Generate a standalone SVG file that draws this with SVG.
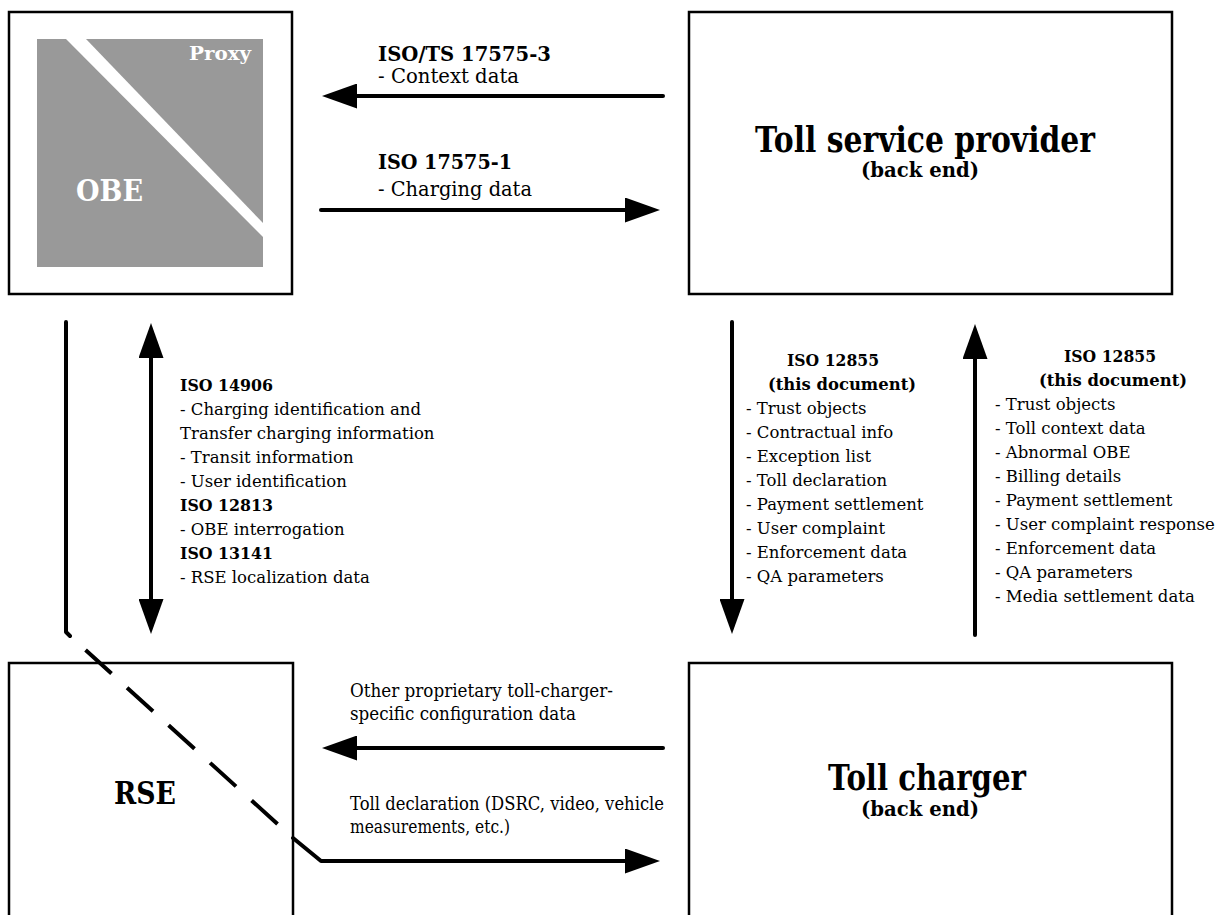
<svg xmlns="http://www.w3.org/2000/svg" width="1218" height="915" viewBox="0 0 1218 915">
<defs>
<style>
.box{fill:#fff;stroke:#000;stroke-width:2.5}
.t{font-family:"DejaVu Serif","Liberation Serif",serif;fill:#000}
.b{font-weight:bold}
.big{font-size:35px;font-weight:bold}
.sub{font-size:20px;font-weight:bold}
.top{font-size:20.5px}
.topb{font-size:21px;font-weight:bold}
.lst{font-size:16.5px}
.hd{font-size:16.8px;font-weight:bold}
.bot{font-size:18px}
.wh{fill:#fff;font-weight:bold}
.ln{fill:none;stroke:#000;stroke-width:4;stroke-linecap:round;stroke-linejoin:round}
.dash{stroke-dasharray:35 21;stroke-dashoffset:35;stroke-linecap:butt}
</style>
<marker id="ah" viewBox="0 0 35 25" refX="0" refY="12.5" markerWidth="35" markerHeight="25" markerUnits="userSpaceOnUse" orient="auto-start-reverse">
<path d="M0,0 L35,12.5 L0,25 Z" fill="#000"/>
</marker>
</defs>
<rect width="1218" height="915" fill="#fff"/>

<g id="node-obe">
<rect class="box" x="9" y="12" width="283" height="282"/>
<rect x="37" y="39" width="226" height="228" fill="#999"/>
<polygon points="66,39 86,39 263,223 263,237" fill="#fff"/>
<text class="t wh" x="189" y="60" font-size="19" textLength="62" lengthAdjust="spacingAndGlyphs">Proxy</text>
<text class="t wh" x="76" y="201" font-size="30" textLength="67" lengthAdjust="spacingAndGlyphs">OBE</text>
</g>

<g id="node-tsp">
<rect class="box" x="689" y="12" width="483" height="282"/>
<text class="t big" x="925" y="152" text-anchor="middle" textLength="340" lengthAdjust="spacingAndGlyphs">Toll service provider</text>
<text class="t sub" x="920" y="177" text-anchor="middle" textLength="118" lengthAdjust="spacingAndGlyphs">(back end)</text>
</g>

<g id="node-rse">
<rect class="box" x="9" y="663" width="284" height="300"/>
<text class="t b" x="114" y="804" font-size="31" textLength="62" lengthAdjust="spacingAndGlyphs">RSE</text>
</g>

<g id="node-tc">
<rect class="box" x="689" y="663" width="483" height="300"/>
<text class="t big" x="927" y="790" text-anchor="middle" textLength="198" lengthAdjust="spacingAndGlyphs">Toll charger</text>
<text class="t sub" x="920" y="816" text-anchor="middle" textLength="118" lengthAdjust="spacingAndGlyphs">(back end)</text>
</g>

<g id="connectors">
<path class="ln" d="M663,96 H357" marker-end="url(#ah)"/>
<path class="ln" d="M321,210 H625" marker-end="url(#ah)"/>
<path class="ln" d="M151,358 V599" marker-start="url(#ah)" marker-end="url(#ah)"/>
<path class="ln" d="M732,322 V599" marker-end="url(#ah)"/>
<path class="ln" d="M975,635 V359" marker-end="url(#ah)"/>
<path class="ln" d="M663,748 H357" marker-end="url(#ah)"/>
<path class="ln" d="M66,322 V632 L70,636"/>
<path class="ln dash" d="M70,636 L293,838"/>
<path class="ln" d="M293,838 L321,861 H625" marker-end="url(#ah)"/>
</g>

<g id="labels-top">
<text class="t topb" x="378" y="61" textLength="173" lengthAdjust="spacingAndGlyphs">ISO/TS 17575-3</text>
<text class="t top" x="378" y="83" textLength="141" lengthAdjust="spacingAndGlyphs">- Context data</text>
<text class="t topb" x="378" y="169" textLength="134" lengthAdjust="spacingAndGlyphs">ISO 17575-1</text>
<text class="t top" x="378" y="196" textLength="154" lengthAdjust="spacingAndGlyphs">- Charging data</text>
</g>

<g id="labels-left">
<text class="t hd" x="180" y="391" textLength="93" lengthAdjust="spacingAndGlyphs">ISO 14906</text>
<text class="t lst" x="180" y="415">- Charging identification and</text>
<text class="t lst" x="180" y="439">Transfer charging information</text>
<text class="t lst" x="180" y="463">- Transit information</text>
<text class="t lst" x="180" y="487">- User identification</text>
<text class="t hd" x="180" y="511" textLength="93" lengthAdjust="spacingAndGlyphs">ISO 12813</text>
<text class="t lst" x="180" y="535">- OBE interrogation</text>
<text class="t hd" x="180" y="559" textLength="93" lengthAdjust="spacingAndGlyphs">ISO 13141</text>
<text class="t lst" x="180" y="583">- RSE localization data</text>
</g>

<g id="labels-down">
<text class="t hd" x="833" y="366" text-anchor="middle" textLength="92" lengthAdjust="spacingAndGlyphs">ISO 12855</text>
<text class="t hd" x="842" y="390" text-anchor="middle" textLength="148" lengthAdjust="spacingAndGlyphs">(this document)</text>
<text class="t lst" x="746" y="414">- Trust objects</text>
<text class="t lst" x="746" y="438">- Contractual info</text>
<text class="t lst" x="746" y="462">- Exception list</text>
<text class="t lst" x="746" y="486">- Toll declaration</text>
<text class="t lst" x="746" y="510">- Payment settlement</text>
<text class="t lst" x="746" y="534">- User complaint</text>
<text class="t lst" x="746" y="558">- Enforcement data</text>
<text class="t lst" x="746" y="582">- QA parameters</text>
</g>

<g id="labels-up">
<text class="t hd" x="1110" y="362" text-anchor="middle" textLength="92" lengthAdjust="spacingAndGlyphs">ISO 12855</text>
<text class="t hd" x="1113" y="386" text-anchor="middle" textLength="148" lengthAdjust="spacingAndGlyphs">(this document)</text>
<text class="t lst" x="995" y="410">- Trust objects</text>
<text class="t lst" x="995" y="434">- Toll context data</text>
<text class="t lst" x="995" y="458">- Abnormal OBE</text>
<text class="t lst" x="995" y="482">- Billing details</text>
<text class="t lst" x="995" y="506">- Payment settlement</text>
<text class="t lst" x="995" y="530">- User complaint response</text>
<text class="t lst" x="995" y="554">- Enforcement data</text>
<text class="t lst" x="995" y="578">- QA parameters</text>
<text class="t lst" x="995" y="602">- Media settlement data</text>
</g>

<g id="labels-bottom">
<text class="t bot" x="350" y="697" textLength="263" lengthAdjust="spacingAndGlyphs">Other proprietary toll-charger-</text>
<text class="t bot" x="350" y="720" textLength="226" lengthAdjust="spacingAndGlyphs">specific configuration data</text>
<text class="t bot" x="350" y="810" textLength="314" lengthAdjust="spacingAndGlyphs">Toll declaration (DSRC, video, vehicle</text>
<text class="t bot" x="350" y="833" textLength="160" lengthAdjust="spacingAndGlyphs">measurements, etc.)</text>
</g>
</svg>
